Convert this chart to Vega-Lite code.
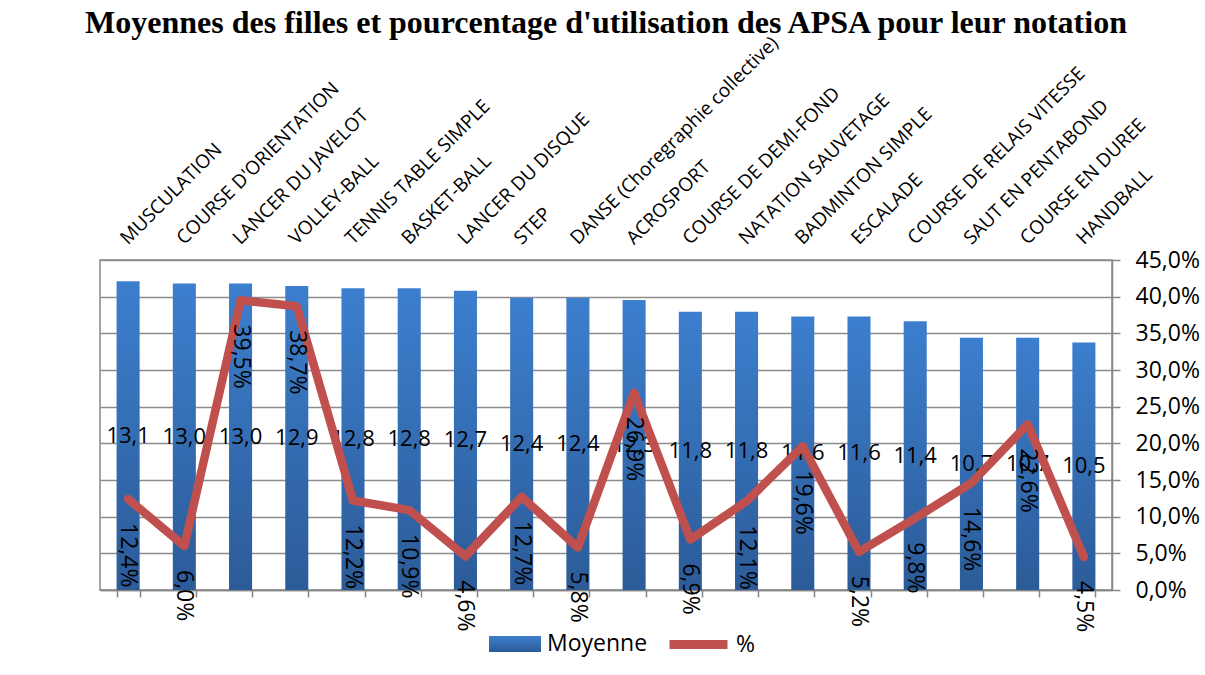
{
  "$schema": "https://vega.github.io/schema/vega-lite/v6.json",
  "width": 1012,
  "height": 330,
  "autosize": {"type": "none"},
  "padding": {"left": 100, "top": 260, "right": 93, "bottom": 85},
  "background": "white",
  "title": {
    "text": "Moyennes des filles et pourcentage d'utilisation des APSA pour leur notation",
    "font": "Liberation Serif",
    "fontSize": 32,
    "fontWeight": "bold",
    "color": "black",
    "anchor": "middle",
    "frame": "group",
    "offset": 16,
    "dy": 48,
    "baseline": "alphabetic"
  },
  "config": {
    "locale": {"number": {"decimal": ",", "thousands": " ", "grouping": [3], "currency": ["", " €"]}},
    "view": {"stroke": "#868686", "strokeWidth": 1.5},
    "font": "Open Sans"
  },
  "data": {
    "values": [
      {"APSA": "MUSCULATION", "Moyenne": 13.1, "Pct": 0.124},
      {"APSA": "COURSE D'ORIENTATION", "Moyenne": 13.0, "Pct": 0.060},
      {"APSA": "LANCER DU JAVELOT", "Moyenne": 13.0, "Pct": 0.395},
      {"APSA": "VOLLEY-BALL", "Moyenne": 12.9, "Pct": 0.387},
      {"APSA": "TENNIS TABLE SIMPLE", "Moyenne": 12.8, "Pct": 0.122},
      {"APSA": "BASKET-BALL", "Moyenne": 12.8, "Pct": 0.109},
      {"APSA": "LANCER DU DISQUE", "Moyenne": 12.7, "Pct": 0.046},
      {"APSA": "STEP", "Moyenne": 12.4, "Pct": 0.127},
      {"APSA": "DANSE (Choregraphie collective)", "Moyenne": 12.4, "Pct": 0.058},
      {"APSA": "ACROSPORT", "Moyenne": 12.3, "Pct": 0.269},
      {"APSA": "COURSE DE DEMI-FOND", "Moyenne": 11.8, "Pct": 0.069},
      {"APSA": "NATATION SAUVETAGE", "Moyenne": 11.8, "Pct": 0.121},
      {"APSA": "BADMINTON SIMPLE", "Moyenne": 11.6, "Pct": 0.196},
      {"APSA": "ESCALADE", "Moyenne": 11.6, "Pct": 0.052},
      {"APSA": "COURSE DE RELAIS VITESSE", "Moyenne": 11.4, "Pct": 0.098},
      {"APSA": "SAUT EN PENTABOND", "Moyenne": 10.7, "Pct": 0.146},
      {"APSA": "COURSE EN DUREE", "Moyenne": 10.7, "Pct": 0.226},
      {"APSA": "HANDBALL", "Moyenne": 10.5, "Pct": 0.045}
    ]
  },
  "layer": [
    {
      "mark": {"type": "bar", "color": {"gradient": "linear", "x1": 0, "y1": 0, "x2": 0, "y2": 1, "stops": [{"offset": 0, "color": "#3C7FCE"}, {"offset": 1, "color": "#2C5B98"}]}},
      "encoding": {
        "x": {
          "field": "APSA", "type": "nominal", "sort": null,
          "scale": {"paddingInner": 0.59, "paddingOuter": 0.295},
          "axis": {
            "orient": "bottom", "labels": false, "title": null, "grid": false,
            "ticks": true, "tickBand": "extent", "tickSize": 7, "tickColor": "#868686", "tickWidth": 1.5,
            "domainColor": "#868686", "domainWidth": 1.5
          }
        },
        "y": {"field": "Moyenne", "type": "quantitative", "scale": {"domain": [0, 14], "nice": false, "zero": true}, "axis": null},
        "opacity": {
          "datum": "Moyenne", "type": "ordinal",
          "scale": {"range": [1]},
          "legend": {
            "orient": "none", "legendX": 389, "legendY": 358, "title": null, "padding": 0,
            "symbolType": "M-1,-0.3077H1V0.3077H-1Z", "symbolSize": 2704, "symbolStrokeWidth": 0,
            "symbolFillColor": "#3570BC", "symbolOpacity": 1,
            "labelFont": "Open Sans", "labelFontSize": 23, "labelColor": "black", "labelOffset": 6
          }
        }
      }
    },
    {
      "mark": {"type": "text", "baseline": "middle", "align": "center", "fontSize": 22, "font": "Open Sans", "color": "black"},
      "encoding": {
        "x": {"field": "APSA", "type": "nominal", "sort": null, "scale": {"paddingInner": 0.59, "paddingOuter": 0.295}, "axis": null},
        "y": {"field": "Moyenne", "type": "quantitative", "scale": {"domain": [0, 28], "nice": false, "zero": true}, "axis": null},
        "text": {"field": "Moyenne", "type": "quantitative", "format": ".1f"}
      }
    },
    {
      "mark": {"type": "line", "strokeWidth": 8.5, "strokeCap": "round", "strokeJoin": "round"},
      "encoding": {
        "x": {
          "field": "APSA", "type": "nominal", "sort": null,
          "scale": {"paddingInner": 0.59, "paddingOuter": 0.295},
          "axis": {
            "orient": "top", "title": null, "domain": false, "ticks": false, "grid": false,
            "labelAngle": -45, "labelAlign": "left", "labelBaseline": "alphabetic", "labelPadding": 15,
            "labelFont": "Open Sans", "labelFontSize": 19, "labelColor": "black",
            "labelLimit": 500, "labelOverlap": false, "labelBound": false
          }
        },
        "y": {
          "field": "Pct", "type": "quantitative",
          "scale": {"domain": [0, 0.45], "nice": false, "zero": true},
          "axis": {
            "orient": "right", "title": null, "values": [0, 0.05, 0.1, 0.15, 0.2, 0.25, 0.3, 0.35, 0.4, 0.45],
            "format": ".1%", "labelFont": "Open Sans", "labelFontSize": 23, "labelColor": "black",
            "labelPadding": 15, "tickSize": 8, "tickColor": "#868686", "tickWidth": 1.5,
            "domainColor": "#868686", "domainWidth": 1.5,
            "grid": true, "gridColor": "#8C8C8C", "gridWidth": 1.3
          }
        },
        "stroke": {
          "datum": "%",
          "scale": {"range": ["#C0504D"]},
          "legend": {
            "orient": "none", "legendX": 565, "legendY": 351, "title": null, "padding": 0,
            "symbolType": "stroke", "symbolSize": 3364, "symbolStrokeWidth": 9,
            "labelFont": "Open Sans", "labelFontSize": 23, "labelColor": "black", "labelOffset": 4
          }
        }
      }
    },
    {
      "mark": {"type": "text", "angle": 90, "align": "left", "baseline": "middle", "yOffset": 24, "fontSize": 23, "font": "Open Sans", "color": "black"},
      "encoding": {
        "x": {"field": "APSA", "type": "nominal", "sort": null, "scale": {"paddingInner": 0.59, "paddingOuter": 0.295}, "axis": null},
        "y": {"field": "Pct", "type": "quantitative", "scale": {"domain": [0, 0.45], "nice": false, "zero": true}, "axis": null},
        "text": {"field": "Pct", "type": "quantitative", "format": ".1%"}
      }
    }
  ],
  "resolve": {"scale": {"y": "independent"}, "axis": {"x": "independent", "y": "independent"}}
}
